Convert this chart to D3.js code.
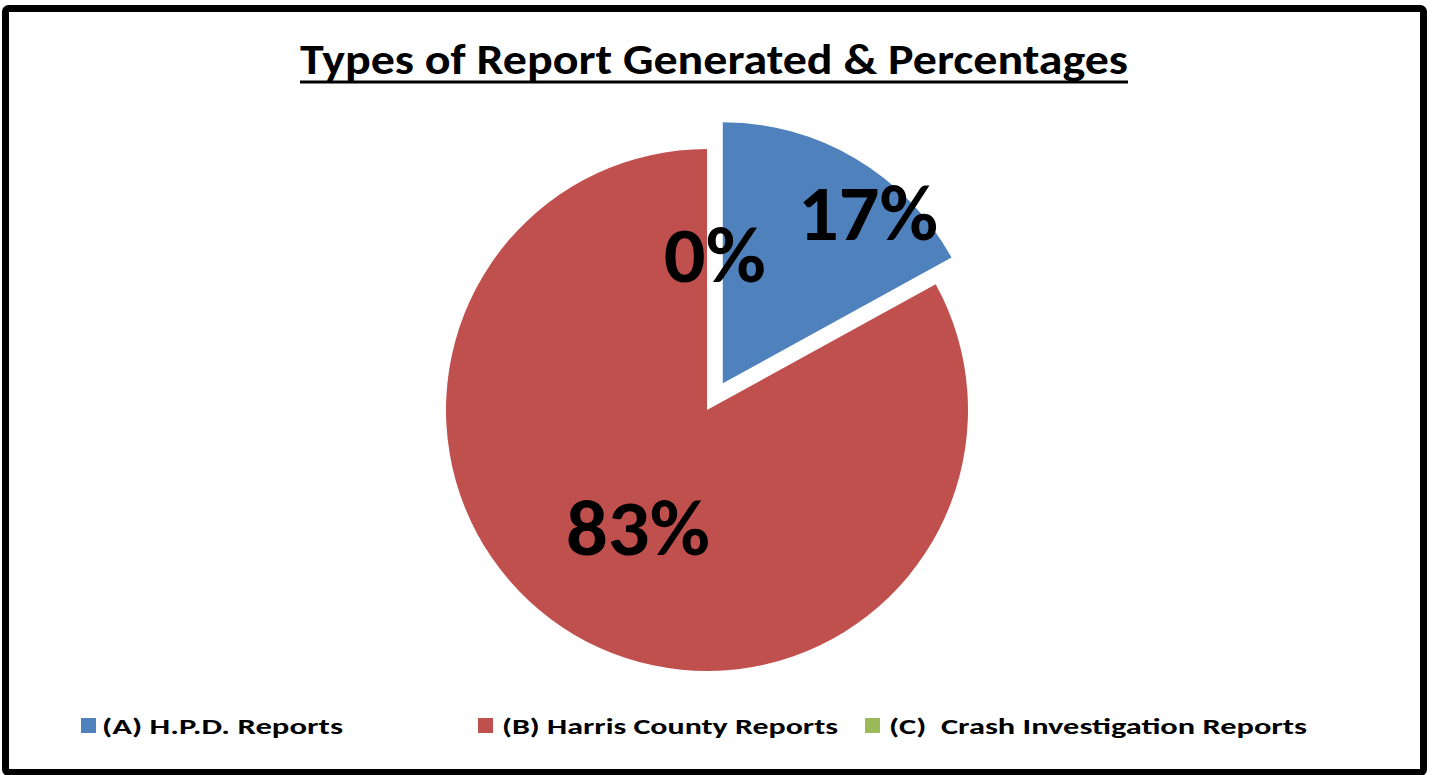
<!DOCTYPE html>
<html>
<head>
<meta charset="utf-8">
<script src="https://cdn.jsdelivr.net/npm/d3@7"></script>
<style>
  html, body { margin: 0; padding: 0; background: #fff; }
  svg { display: block; }
  text { font-family: Carlito, Lato, "Open Sans", sans-serif; font-weight: 700; fill: #000; }
</style>
</head>
<body>
<svg id="chart" width="1434" height="775"></svg>
<script>
// ---- data ----
const title = "Types of Report Generated & Percentages";
const categories = ["(A) H.P.D. Reports", "(B) Harris County Reports", "(C)  Crash Investigation Reports"];
const values = [17, 83, 0];           // percent of reports
const labels = ["17%", "83%", "0%"];
const colors = ["#4F81BD", "#C0504D", "#9BBB59"];
const explode = [31, 0, 0];           // slice pull-out (px)

const W = 1434, H = 775;
const svg = d3.select("#chart");

// frame
svg.append("rect")
  .attr("x", 5.5).attr("y", 8.5).attr("width", 1418).attr("height", 764)
  .attr("rx", 3)
  .attr("fill", "#fff").attr("stroke", "#000").attr("stroke-width", 7);

// title
svg.append("text")
  .attr("x", 714).attr("y", 74)
  .attr("text-anchor", "middle")
  .attr("font-size", 42)
  .attr("textLength", 828).attr("lengthAdjust", "spacingAndGlyphs")
  .text(title);
svg.append("rect")
  .attr("x", 300).attr("y", 80.5).attr("width", 828).attr("height", 3)
  .attr("fill", "#000");

// pie
const cx = 707, cy = 410, r = 261;
const pie = d3.pie().sort(null).value(d => d)(values);
const arc = d3.arc().innerRadius(0).outerRadius(r);

const g = svg.append("g").attr("transform", `translate(${cx},${cy})`);
g.selectAll("path.slice")
  .data(pie)
  .join("path")
  .attr("class", "slice")
  .attr("d", arc)
  .attr("fill", (d, i) => colors[i])
  .attr("transform", (d, i) => {
    const a = (d.startAngle + d.endAngle) / 2;
    return `translate(${explode[i] * Math.sin(a)},${-explode[i] * Math.cos(a)})`;
  });

// data labels
const labelFrac = [0.86, 0.52, 0.6];
const labelAngleShift = [0.17, 0, 0.05];
const labelWidth = [140, 144, 102];
g.selectAll("text.lbl")
  .data(pie)
  .join("text")
  .attr("class", "lbl")
  .attr("text-anchor", "middle")
  .attr("font-size", 78)
  .attr("textLength", (d, i) => labelWidth[i])
  .attr("lengthAdjust", "spacingAndGlyphs")
  .attr("x", (d, i) => {
    const a = (d.startAngle + d.endAngle) / 2 + labelAngleShift[i];
    return explode[i] * Math.sin((d.startAngle + d.endAngle) / 2) + labelFrac[i] * r * Math.sin(a);
  })
  .attr("y", (d, i) => {
    const a = (d.startAngle + d.endAngle) / 2 + labelAngleShift[i];
    return -explode[i] * Math.cos((d.startAngle + d.endAngle) / 2) - labelFrac[i] * r * Math.cos(a) + 28;
  })
  .text((d, i) => labels[i]);

// legend
const legX = [81, 478, 865];
const legTextW = [241, 336, 418];
const leg = svg.append("g");
const items = leg.selectAll("g").data(categories).join("g")
  .attr("transform", (d, i) => `translate(${legX[i]},718)`);
items.append("rect")
  .attr("width", 15).attr("height", 15)
  .attr("fill", (d, i) => colors[i]);
items.append("text")
  .attr("x", (d, i) => i === 0 ? 21 : 24)
  .attr("y", 16)
  .attr("font-size", 23)
  .attr("textLength", (d, i) => legTextW[i])
  .attr("lengthAdjust", "spacingAndGlyphs")
  .attr("xml:space", "preserve")
  .style("white-space", "pre")
  .text(d => d);
</script>
</body>
</html>
